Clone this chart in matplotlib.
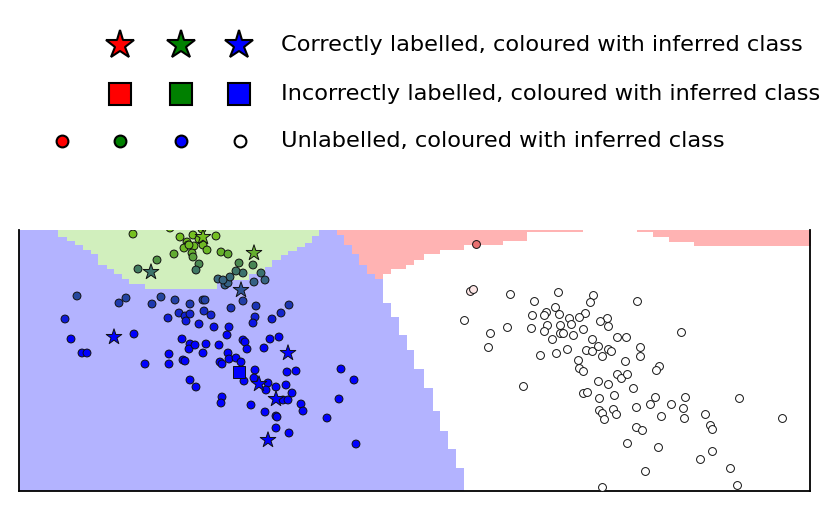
import numpy as np
import matplotlib
matplotlib.use("Agg")
import matplotlib.pyplot as plt
from matplotlib.colors import ListedColormap, LinearSegmentedColormap, Normalize

# --- background regions (pixel-like coords, y grows downward) ---
green_x = [58, 67, 75, 83, 91, 98, 107, 114, 122, 129, 145, 217, 249, 265, 272, 281, 288, 297, 305, 312, 319]
green_bottom = [237, 241, 245, 250, 254, 265, 269, 274, 279, 284, 289, 280, 274, 267, 260, 255, 251, 247, 243, 236]

red_x = [337, 344, 352, 359, 367, 375, 383, 391, 406, 414, 423, 439, 463, 502, 526, 582, 636, 652, 668, 693, 810]
red_bottom = [235, 245, 254, 265, 274, 279, 274, 269, 265, 260, 254, 250, 245, 241, 232, 230, 232, 237, 242, 246]

white_rows = [230, 303, 317, 335, 350, 369, 388, 411, 431, 449, 468, 491]
white_edge = [383, 391, 399, 407, 414, 423, 432, 439, 447, 455, 463]

# --- labelled / unlabelled points ---
lab_x = [133, 170, 180, 193, 202, 216, 187, 188, 184, 194, 192, 193, 203, 207, 174, 157, 138, 199, 196,
         221, 228, 239, 253, 243, 236, 261, 265, 218, 225, 228, 230, 254, 199, 189, 223,
         77, 119, 126, 152, 161, 175, 190, 203, 205, 168, 179, 185, 190, 186, 204, 211, 199, 214,
         229, 227, 231, 243, 256, 255, 253, 272, 281, 289, 65, 71, 82, 87, 134, 145, 169, 169,
         182, 190, 189, 195, 206, 219, 203, 183, 185, 220, 222, 228, 229, 236, 241, 243, 245,
         247, 264, 270, 279, 255, 254, 244, 268, 266, 276, 286, 287, 296, 292, 283, 288, 301,
         303, 276, 277, 265, 251, 222, 221, 190, 196, 276, 289, 327, 339, 341, 354, 356]
lab_y = [234, 228, 237, 235, 229, 236, 242, 245, 248, 246, 253, 257, 245, 250, 254, 260, 269, 264, 270,
         252, 254, 263, 265, 273, 271, 273, 280, 279, 285, 283, 277, 282, 239, 245, 280,
         296, 303, 298, 304, 297, 300, 304, 300, 300, 318, 313, 316, 314, 321, 311, 315, 324, 327,
         327, 335, 308, 301, 306, 317, 323, 319, 313, 305, 319, 339, 353, 353, 334, 364, 354, 364,
         339, 344, 349, 345, 344, 345, 353, 360, 361, 362, 364, 353, 359, 358, 362, 340, 342,
         349, 348, 339, 337, 370, 378, 381, 383, 390, 387, 385, 372, 371, 393, 400, 400, 404,
         411, 416, 417, 412, 405, 397, 403, 380, 387, 428, 433, 418, 399, 369, 380, 444]

star_x = [203, 254, 151, 241, 114, 288, 259, 276, 268]
star_y = [237, 253, 272, 290, 337, 353, 384, 399, 440]

square_x = [239]
square_y = [372]

unl_x = [510, 558, 593, 590, 534, 637, 555, 546, 544, 559, 532, 585, 569, 579, 607, 600, 608, 571, 560,
         547, 531, 507, 464, 490, 544, 560, 563, 573, 583, 552, 592, 617, 626, 681, 488, 540, 556,
         567, 586, 592, 598, 602, 608, 611, 640, 640, 578, 579, 583, 625, 617, 621, 627, 659, 656,
         598, 608, 633, 523, 583, 587, 599, 614, 655, 650, 671, 685, 683, 684, 661, 636, 613, 616,
         599, 602, 604, 636, 642, 705, 710, 712, 739, 782, 627, 658, 700, 712, 730, 645, 737, 602]
unl_y = [294, 292, 295, 302, 301, 301, 307, 312, 315, 314, 315, 313, 318, 317, 318, 321, 326, 324, 325,
         325, 328, 327, 320, 333, 331, 333, 333, 335, 329, 339, 339, 337, 337, 332, 347, 355, 353,
         349, 350, 351, 346, 356, 349, 351, 347, 356, 360, 368, 371, 361, 374, 378, 374, 366, 370,
         381, 384, 388, 386, 393, 392, 398, 395, 397, 404, 404, 397, 408, 418, 416, 407, 409, 414,
         410, 413, 419, 427, 430, 414, 425, 429, 398, 418, 443, 447, 459, 451, 468, 471, 485, 487]

pink_x = [470, 473]
pink_y = [291, 289]
red_pt_x = [476]
red_pt_y = [244]

# --- legend keys ---
leg_cols = [120, 181, 239]
leg_rows = [45, 94, 141]
leg_colors = ["red", "green", "blue"]
leg_texts = ["Correctly labelled, coloured with inferred class",
             "Incorrectly labelled, coloured with inferred class",
             "Unlabelled, coloured with inferred class"]
dot_cols = [62, 120, 181, 240]
dot_colors = ["red", "green", "blue", "white"]

# background label grid
xs = np.arange(19, 810) + 0.5
ys = np.arange(230, 491) + 0.5
X, Y = np.meshgrid(xs, ys)
lab = np.zeros(X.shape, dtype=int)
for i in range(len(green_bottom)):
    lab[(X >= green_x[i]) & (X < green_x[i + 1]) & (Y < green_bottom[i])] = 1
for i in range(len(white_edge)):
    lab[(Y >= white_rows[i]) & (Y < white_rows[i + 1]) & (X >= white_edge[i])] = 3
for i in range(len(red_bottom)):
    lab[(X >= red_x[i]) & (X < red_x[i + 1]) & (Y < red_bottom[i])] = 2

bg_cmap = ListedColormap(["#b3b3ff", "#d1efbd", "#ffb3b3", "#ffffff"])

pt_cmap = LinearSegmentedColormap.from_list("inferred", [
    (0.0, (0.47, 0.76, 0.12)),
    ((250 - 230) / 261, (0.42, 0.72, 0.15)),
    ((262 - 230) / 261, (0.30, 0.55, 0.30)),
    ((272 - 230) / 261, (0.24, 0.45, 0.42)),
    ((285 - 230) / 261, (0.20, 0.36, 0.55)),
    ((300 - 230) / 261, (0.13, 0.25, 0.65)),
    ((315 - 230) / 261, (0.07, 0.13, 0.82)),
    ((335 - 230) / 261, (0.0, 0.0, 1.0)),
    (1.0, (0.0, 0.0, 1.0)),
])
norm = Normalize(230, 491)

fig = plt.figure(figsize=(8.3, 5.11), dpi=100)
ax = fig.add_axes([19 / 830, 20 / 511, 791 / 830, 261 / 511])
ax.imshow(lab, cmap=bg_cmap, vmin=-0.5, vmax=3.5, interpolation="nearest",
          extent=(19, 810, 491, 230), aspect="auto", zorder=0)

ax.scatter(lab_x, lab_y, c=lab_y, cmap=pt_cmap, norm=norm, s=32, edgecolors="#111111", linewidths=0.7, zorder=3)
ax.scatter(unl_x, unl_y, c="white", s=32, edgecolors="#111111", linewidths=0.7, zorder=3)
ax.scatter(pink_x, pink_y, c="#fde6e6", s=32, edgecolors="#111111", linewidths=0.7, zorder=3)
ax.scatter(red_pt_x, red_pt_y, c="#e87070", s=32, edgecolors="#111111", linewidths=0.7, zorder=3)
ax.scatter(star_x, star_y, c=star_y, cmap=pt_cmap, norm=norm, marker="*", s=140,
           edgecolors="#111111", linewidths=0.7, zorder=4)
ax.scatter(square_x, square_y, c="blue", marker="s", s=64, edgecolors="#111111", linewidths=0.7, zorder=4)

ax.set_xlim(19, 810)
ax.set_ylim(491, 230)
ax.set_xticks([])
ax.set_yticks([])
ax.spines["top"].set_visible(False)
for s in ["left", "right", "bottom"]:
    ax.spines[s].set_linewidth(1.3)

# legend drawn in figure pixel space
lg = fig.add_axes([0, 0, 1, 1])
lg.set_xlim(0, 830)
lg.set_ylim(511, 0)
lg.axis("off")
lg.patch.set_visible(False)
for cx, col in zip(leg_cols, leg_colors):
    lg.plot(cx, leg_rows[0], marker="*", ms=21, mfc=col, mec="black", mew=1.5, ls="none")
    lg.plot(cx, leg_rows[1], marker="s", ms=16.5, mfc=col, mec="black", mew=1.5, ls="none")
for cx, col in zip(dot_cols, dot_colors):
    lg.plot(cx, leg_rows[2], marker="o", ms=8.5, mfc=col, mec="black", mew=1.5, ls="none")
for ry, t in zip(leg_rows, leg_texts):
    lg.text(281, ry, t, fontsize=16.2, va="center", ha="left", family="DejaVu Sans")

fig.savefig("out.png", dpi=100)
